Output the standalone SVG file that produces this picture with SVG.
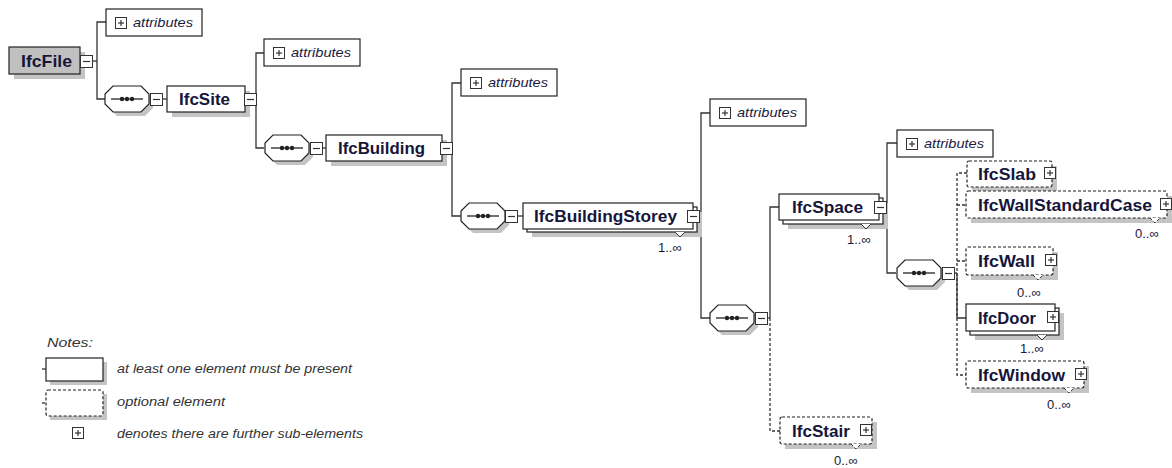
<svg xmlns="http://www.w3.org/2000/svg" width="1172" height="468" viewBox="0 0 1172 468">
<style>
.bx{fill:#fff;stroke:#222;stroke-width:1.2}
.opt{fill:#fff;stroke:#222;stroke-width:1.2;stroke-dasharray:3 2}
.sh{fill:#c4c4c4}
.nm{font-family:"Liberation Sans",Arial,sans-serif;font-weight:bold;font-size:17px;fill:#16163a}
.at{font-family:"Liberation Sans",Arial,sans-serif;font-style:italic;font-size:13px;fill:#1a1a40}
.mu{font-family:"Liberation Sans",Arial,sans-serif;font-size:13px;fill:#1a1a40}
.lg{font-family:"Liberation Sans",Arial,sans-serif;font-style:italic;font-size:12px;fill:#333}
.c{stroke:#333;stroke-width:1.3;fill:none}
.d{stroke-dasharray:3 2}
.ic{fill:#fff;stroke:#333;stroke-width:1}
.nt{fill:#fff;stroke:#333;stroke-width:1}
</style>
<defs>
<g id="minus"><rect class="ic" x="0.5" y="0.5" width="12" height="12"/><line x1="3" y1="6.5" x2="10" y2="6.5" stroke="#333" stroke-width="1.2"/></g>
<g id="plus"><rect class="ic" x="0.5" y="0.5" width="11" height="11"/><line x1="3" y1="6" x2="9" y2="6" stroke="#333" stroke-width="1.2"/><line x1="6" y1="3" x2="6" y2="9" stroke="#333" stroke-width="1.2"/></g>
<g id="seq">
<polygon class="sh" points="12,4 40,4 48,12 48,22 40,30 12,30 4,22 4,12"/>
<polygon class="bx" points="8,0 36,0 44,8 44,18 36,26 8,26 0,18 0,8"/>
<line x1="6" y1="13" x2="38" y2="13" stroke="#222" stroke-width="1.3"/>
<circle cx="17" cy="13" r="2.2" fill="#222"/><circle cx="22" cy="13" r="2.2" fill="#222"/><circle cx="27" cy="13" r="2.2" fill="#222"/>
</g>
<g id="attr"><rect class="bx" x="0" y="0" width="96" height="27"/><use href="#plus" x="9" y="8"/></g>
</defs>

<g id="connectors">
<polyline class="c" points="92,61 97,61"/>
<polyline class="c" points="106,22 97,22 97,99 105,99"/>
<line class="c" x1="149" y1="99" x2="150" y2="99"/>
<line class="c" x1="162" y1="99" x2="167" y2="99"/>
<polyline class="c" points="264,53 256,53 256,148 264,148"/>
<line class="c" x1="322" y1="148" x2="326" y2="148"/>
<polyline class="c" points="461,83 452,83 452,216 461,216"/>
<line class="c" x1="517" y1="216" x2="523" y2="216"/>
<polyline class="c" points="710,113 701,113 701,318 710,318"/>
<line class="c" x1="767" y1="318" x2="770" y2="318"/>
<polyline class="c" points="779,207 770,207 770,318"/>
<polyline class="c d" points="770,318 770,431 780,431"/>
<polyline class="c" points="897,143 887,143 887,273 896,273"/>
<line class="c" x1="954" y1="273" x2="957" y2="273"/>
<polyline class="c d" points="967,173 957,173 957,375 966,375"/>
<line class="c d" x1="957" y1="205" x2="966" y2="205"/>
<line class="c d" x1="957" y1="261" x2="966" y2="261"/>
<polyline class="c" points="957,273 957,318 966,318"/>
</g>

<g id="IfcFile">
<rect class="sh" x="14" y="52" width="71" height="27"/>
<rect x="9" y="47" width="71" height="27" fill="#c0c0c0" stroke="#222" stroke-width="1.2"/>
<text class="nm" x="21" y="67" textLength="51" lengthAdjust="spacingAndGlyphs">IfcFile</text>
<use href="#minus" x="80" y="55"/>
</g>

<g id="attributes1"><use href="#attr" x="106" y="9"/><text class="at" x="133" y="27" textLength="60" lengthAdjust="spacingAndGlyphs">attributes</text></g>

<g id="seq1"><use href="#seq" x="105" y="86"/><use href="#minus" x="150" y="93"/></g>

<g id="IfcSite">
<rect class="sh" x="172" y="91" width="78" height="26"/>
<rect class="bx" x="167" y="86" width="78" height="26"/>
<text class="nm" x="179" y="105" textLength="51" lengthAdjust="spacingAndGlyphs">IfcSite</text>
<use href="#minus" x="244" y="93"/>
</g>

<g id="attributes2"><use href="#attr" x="264" y="39"/><text class="at" x="291" y="57" textLength="60" lengthAdjust="spacingAndGlyphs">attributes</text></g>

<g id="seq2"><use href="#seq" x="265" y="135"/><use href="#minus" x="310" y="142"/></g>

<g id="IfcBuilding">
<rect class="sh" x="331" y="140" width="116" height="26"/>
<rect class="bx" x="326" y="135" width="116" height="26"/>
<text class="nm" x="338" y="154" textLength="87" lengthAdjust="spacingAndGlyphs">IfcBuilding</text>
<use href="#minus" x="440" y="142"/>
</g>

<g id="attributes3"><use href="#attr" x="461" y="69"/><text class="at" x="488" y="87" textLength="60" lengthAdjust="spacingAndGlyphs">attributes</text></g>

<g id="seq3"><use href="#seq" x="461" y="203"/><use href="#minus" x="505" y="210"/></g>

<g id="IfcBuildingStorey">
<rect class="sh" x="532" y="212" width="170" height="25"/>
<rect class="bx" x="527" y="207" width="170" height="25"/>
<rect class="bx" x="523" y="203" width="170" height="26"/>
<text class="nm" x="534" y="222" textLength="143" lengthAdjust="spacingAndGlyphs">IfcBuildingStorey</text>
<use href="#minus" x="687" y="210"/>
<polyline class="nt" points="675,232 680,237 685,232"/>
<text class="mu" x="658" y="252">1..∞</text>
</g>

<g id="attributes4"><use href="#attr" x="710" y="99"/><text class="at" x="737" y="117" textLength="60" lengthAdjust="spacingAndGlyphs">attributes</text></g>

<g id="seq4"><use href="#seq" x="710" y="305"/><use href="#minus" x="755" y="312"/></g>

<g id="IfcSpace">
<rect class="sh" x="788" y="203" width="100" height="26"/>
<rect class="bx" x="783" y="198" width="100" height="26"/>
<rect class="bx" x="779" y="194" width="100" height="26"/>
<text class="nm" x="792" y="213" textLength="71" lengthAdjust="spacingAndGlyphs">IfcSpace</text>
<use href="#minus" x="874" y="201"/>
<polyline class="nt" points="861,224 866,229 871,224"/>
<text class="mu" x="847" y="244">1..∞</text>
</g>

<g id="attributes5"><use href="#attr" x="897" y="130"/><text class="at" x="924" y="148" textLength="60" lengthAdjust="spacingAndGlyphs">attributes</text></g>

<g id="seq5"><use href="#seq" x="897" y="260"/><use href="#minus" x="942" y="267"/></g>

<g id="IfcSlab">
<rect class="sh" x="972" y="166" width="85" height="26"/>
<rect class="opt" x="967" y="161" width="85" height="26" rx="2"/>
<text class="nm" x="978" y="180" textLength="58" lengthAdjust="spacingAndGlyphs">IfcSlab</text>
<use href="#plus" x="1044" y="167"/>
</g>

<g id="IfcWallStandardCase">
<rect class="sh" x="971" y="196" width="201" height="27"/>
<rect class="opt" x="966" y="191" width="201" height="27" rx="2"/>
<text class="nm" x="978" y="211" textLength="174" lengthAdjust="spacingAndGlyphs">IfcWallStandardCase</text>
<use href="#plus" x="1160" y="198"/>
<polyline class="nt d" points="1150,218 1155,223 1160,218"/>
<text class="mu" x="1135" y="238">0..∞</text>
</g>

<g id="IfcWall">
<rect class="sh" x="971" y="252" width="87" height="28"/>
<rect class="opt" x="966" y="247" width="87" height="28" rx="2"/>
<text class="nm" x="978" y="267" textLength="57" lengthAdjust="spacingAndGlyphs">IfcWall</text>
<use href="#plus" x="1045" y="254"/>
<polyline class="nt d" points="1033,275 1038,280 1043,275"/>
<text class="mu" x="1017" y="297">0..∞</text>
</g>

<g id="IfcDoor">
<rect class="sh" x="975" y="313" width="89" height="27"/>
<rect class="bx" x="970" y="308" width="89" height="27"/>
<rect class="bx" x="966" y="304" width="89" height="27"/>
<text class="nm" x="978" y="324" textLength="58" lengthAdjust="spacingAndGlyphs">IfcDoor</text>
<use href="#plus" x="1047" y="311"/>
<polyline class="nt" points="1037,335 1042,340 1047,335"/>
<text class="mu" x="1020" y="353">1..∞</text>
</g>

<g id="IfcWindow">
<rect class="sh" x="971" y="366" width="118" height="27"/>
<rect class="opt" x="966" y="361" width="118" height="27" rx="2"/>
<text class="nm" x="978" y="381" textLength="87" lengthAdjust="spacingAndGlyphs">IfcWindow</text>
<use href="#plus" x="1075" y="368"/>
<polyline class="nt d" points="1064,388 1069,393 1074,388"/>
<text class="mu" x="1047" y="409">0..∞</text>
</g>

<g id="IfcStair">
<rect class="sh" x="785" y="422" width="92" height="27"/>
<rect class="opt" x="780" y="417" width="92" height="27" rx="2"/>
<text class="nm" x="792" y="437" textLength="58" lengthAdjust="spacingAndGlyphs">IfcStair</text>
<use href="#plus" x="860" y="424"/>
<polyline class="nt d" points="851,444 856,449 861,444"/>
<text class="mu" x="834" y="465">0..∞</text>
</g>

<g id="legend">
<text class="lg" x="47" y="347" font-size="15" textLength="46" lengthAdjust="spacingAndGlyphs" fill="#444">Notes:</text>
<rect class="sh" x="50" y="362" width="57" height="23"/>
<rect class="bx" x="46" y="358" width="57" height="23"/>
<line class="c" x1="42" y1="369" x2="46" y2="369"/>
<text class="lg" x="117" y="373" textLength="235" lengthAdjust="spacingAndGlyphs">at least one element must be present</text>
<rect class="sh" x="50" y="394" width="57" height="26"/>
<rect class="opt" x="46" y="390" width="57" height="26" rx="2"/>
<line class="c d" x1="42" y1="403" x2="46" y2="403"/>
<text class="lg" x="117" y="406" textLength="108" lengthAdjust="spacingAndGlyphs">optional element</text>
<use href="#plus" x="72" y="427"/>
<text class="lg" x="117" y="438" textLength="246" lengthAdjust="spacingAndGlyphs">denotes there are further sub-elements</text>
</g>
</svg>
